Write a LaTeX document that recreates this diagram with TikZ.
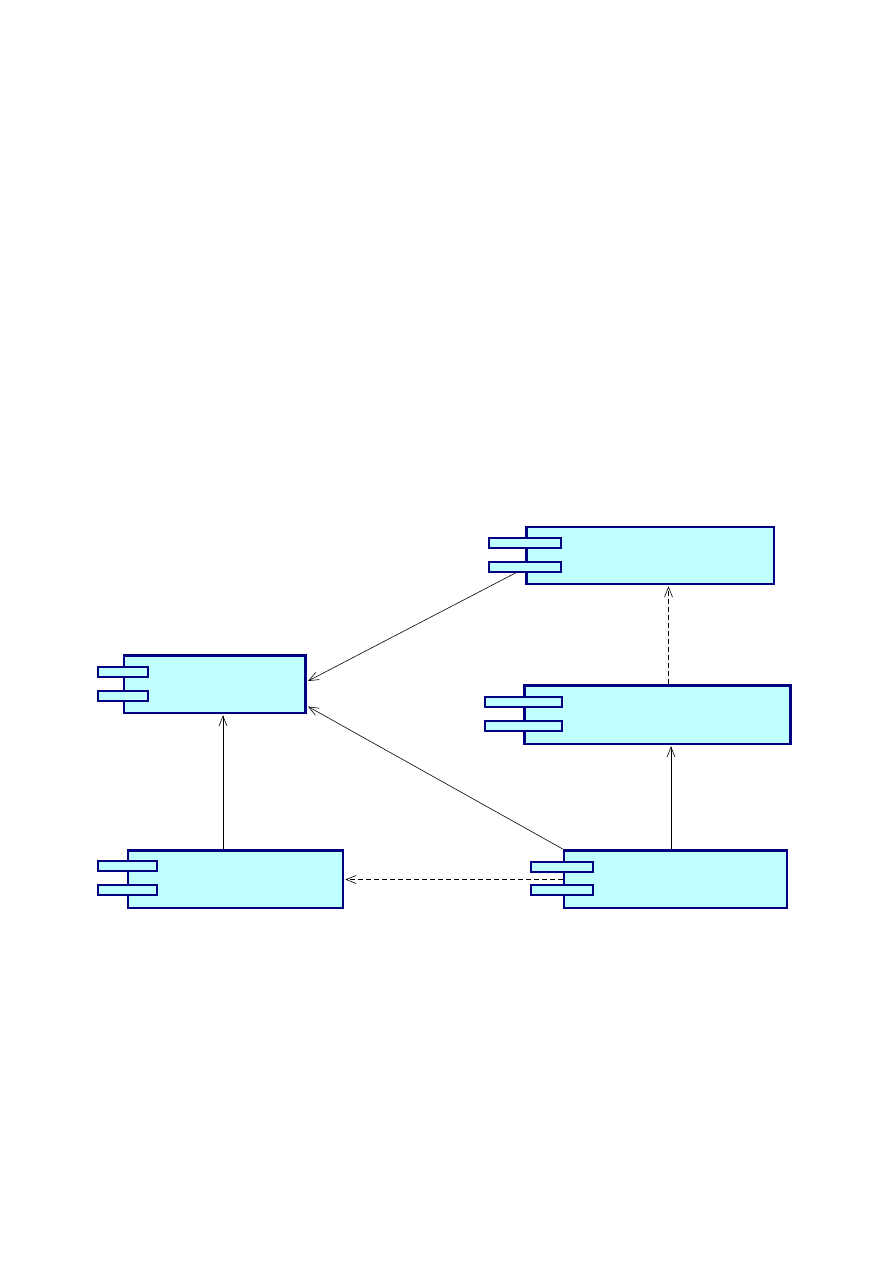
\documentclass[tikz,border=0pt]{standalone}
\usetikzlibrary{arrows.meta,calc}
\definecolor{boxfill}{RGB}{192,255,255}
\definecolor{boxline}{RGB}{0,0,128}
\begin{document}
\begin{tikzpicture}[x=1pt,y=-1pt,
  comp/.style={draw=boxline,fill=boxfill,line width=2.6pt,rectangle,inner sep=0pt,outer sep=0pt},
  tab/.style={draw=boxline,fill=boxfill,line width=2pt,rectangle,inner sep=0pt,outer sep=0pt,minimum height=10pt},
  link/.style={draw=black,line width=0.6pt,-{Straight Barb[length=10pt,width=8pt,line width=0.6pt]}},
  deplink/.style={link,dash pattern=on 5pt off 3pt}]
\useasboundingbox (0,0) rectangle (893,1263);
% connectors (behind boxes)
\coordinate (a1) at (525,568);
\coordinate (b1) at (308,681);
\coordinate (b2) at (308,706.5);
\coordinate (b3) at (223,715.3);
\coordinate (e1) at (562.7,849);
\coordinate (e2) at (562.7,879.5);
\coordinate (c1) at (345.3,879.5);
\coordinate (e3) at (671,849);
\coordinate (d1) at (671,746.3);
\coordinate (d2) at (668.5,684);
\coordinate (a2) at (668.5,586.3);
\coordinate (c2) at (223,849);
\draw[link] (a1) -- (b1);
\draw[link] (e1) -- (b2);
\draw[link] (c2) -- (b3);
\draw[deplink] (e2) -- (c1);
\draw[link] (e3) -- (d1);
\draw[deplink] (d2) -- (a2);
% box A (top right)
\node[comp,minimum width=247.6pt,minimum height=57pt] (A) at (650,555.3) {};
\node[tab,minimum width=72pt] (A1) at (525,542.8) {};
\node[tab,minimum width=72pt] (A2) at (525,566.8) {};
% box B (left middle)
\node[comp,minimum width=181.6pt,minimum height=57.6pt] (B) at (214.7,684) {};
\node[tab,minimum width=50.4pt] (B1) at (122.8,672.3) {};
\node[tab,minimum width=50.4pt] (B2) at (122.8,696.2) {};
% box C (bottom left)
\node[comp,minimum width=215pt,minimum height=57.6pt] (C) at (235.3,879) {};
\node[tab,minimum width=59.4pt] (C1) at (127.3,866.2) {};
\node[tab,minimum width=59.4pt] (C2) at (127.3,890.3) {};
% box D (right middle)
\node[comp,minimum width=266pt,minimum height=58.6pt] (D) at (657.5,714.5) {};
\node[tab,minimum width=77pt] (D1) at (523.8,702.2) {};
\node[tab,minimum width=77pt] (D2) at (523.8,725.5) {};
% box E (bottom right)
\node[comp,minimum width=223.2pt,minimum height=57.6pt] (E) at (675.5,879) {};
\node[tab,minimum width=62pt] (E1) at (562,866.7) {};
\node[tab,minimum width=62pt] (E2) at (562,890) {};
\end{tikzpicture}
\end{document}
